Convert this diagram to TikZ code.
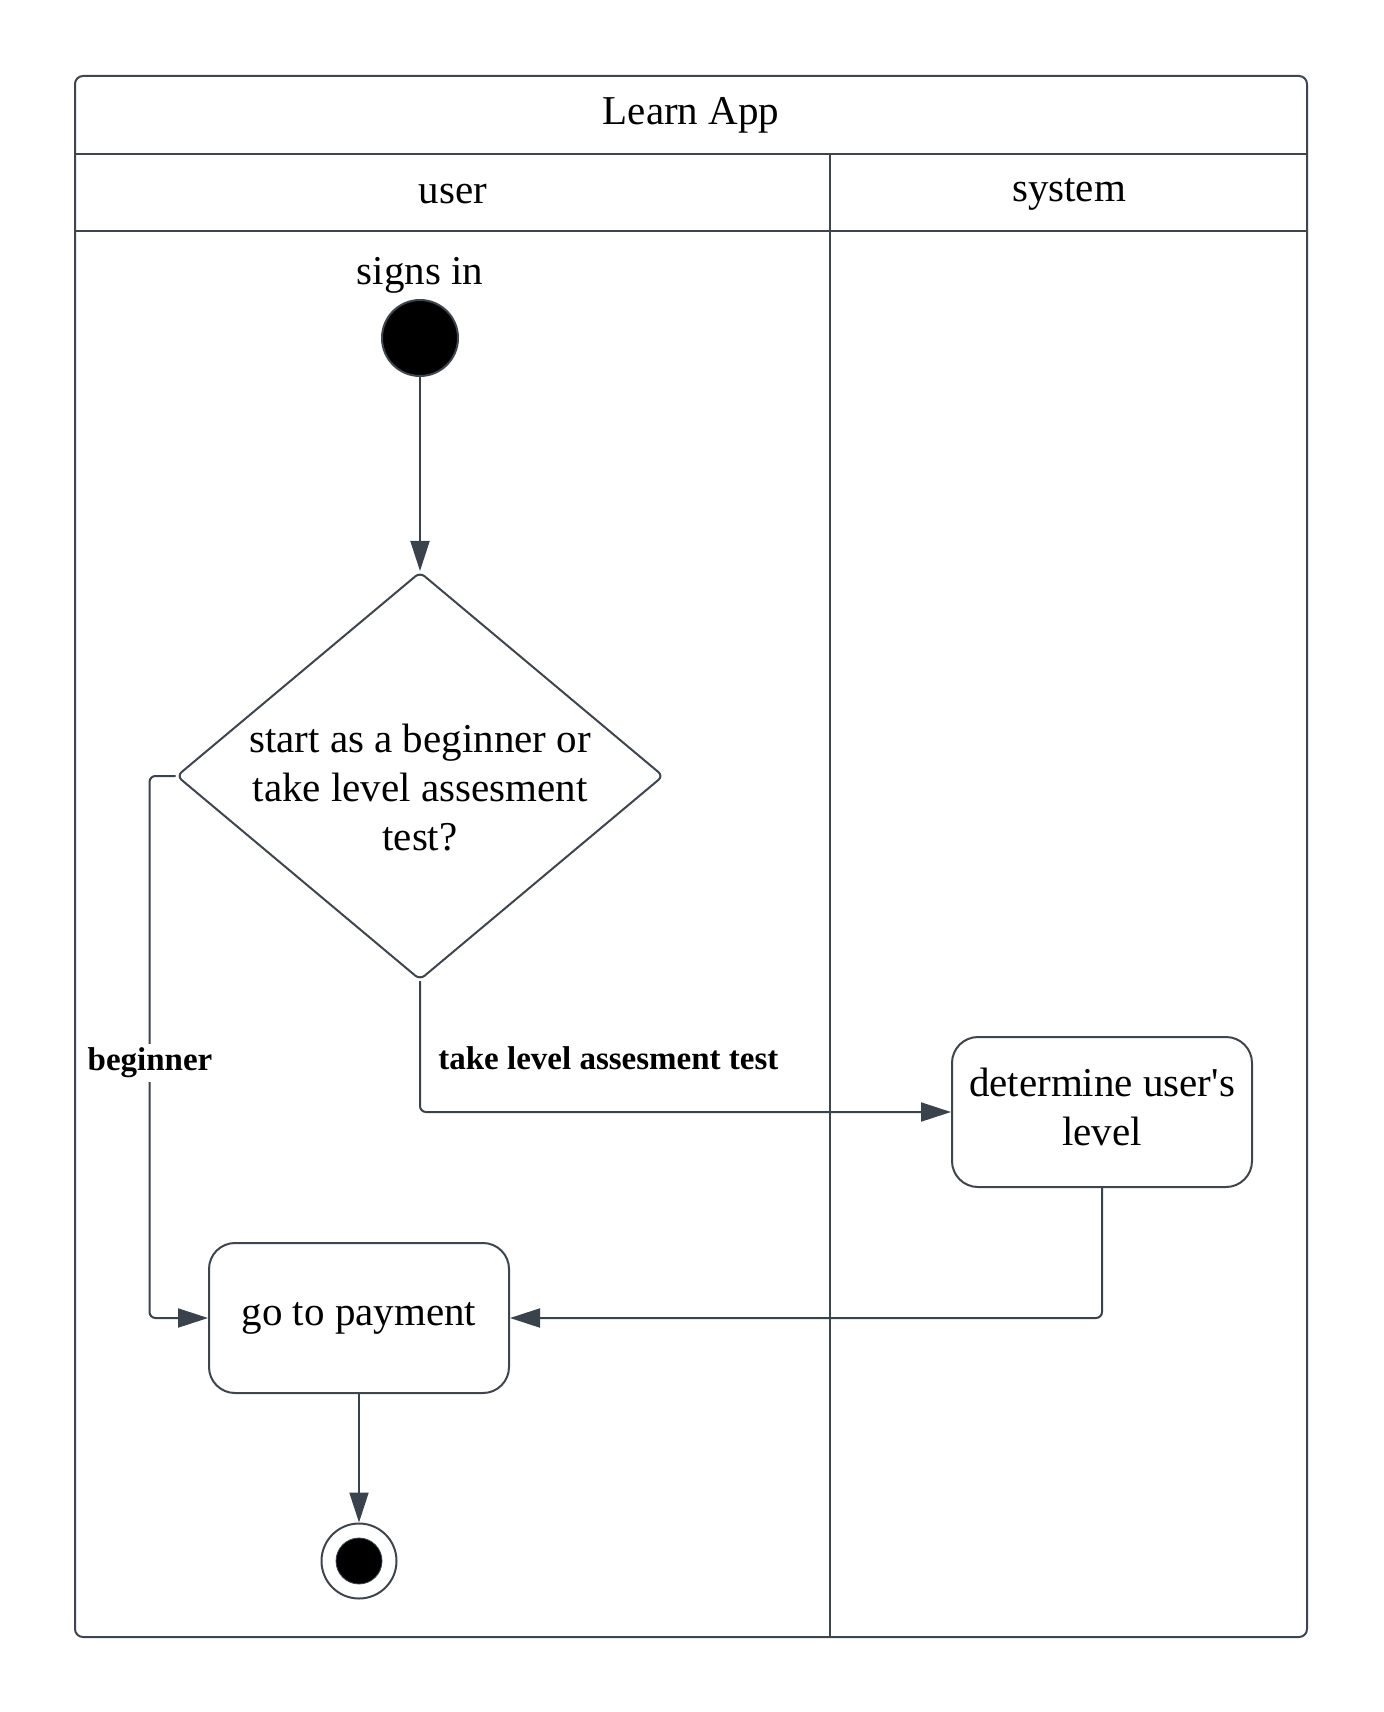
\documentclass[tikz,border=0pt]{standalone}
\usepackage{fontspec}
\setmainfont{Liberation Serif}
\usepackage{tikz}
\usetikzlibrary{shapes.geometric, arrows.meta, positioning}
\usepackage{xcolor}
\definecolor{LaneGray}{HTML}{3F454D}
\definecolor{ArrowSlate}{HTML}{3A424C}
\definecolor{InkBlack}{HTML}{000000}
\definecolor{PaperWhite}{HTML}{FFFFFF}
\tikzset{
    % Node styles
    actionbox/.style={
        rectangle,
        rounded corners=13pt,
        draw=LaneGray,
        fill=PaperWhite,
        line width=1pt,
        minimum width=150pt,
        minimum height=75pt,
        align=center,
        font={\fontsize{20.5}{24.5}\selectfont}
    },
    decisionbox/.style={
        diamond,
        rounded corners=3pt,
        draw=LaneGray,
        fill=PaperWhite,
        line width=1pt,
        inner sep=0pt,
        minimum width=243.5pt,
        minimum height=204pt
    },
    startdot/.style={
        circle,
        draw=LaneGray,
        fill=InkBlack,
        line width=1pt,
        minimum size=38pt
    },
    endring/.style={
        circle,
        draw=LaneGray,
        fill=PaperWhite,
        line width=1pt,
        minimum size=37.5pt
    },
    enddot/.style={
        circle,
        draw=LaneGray,
        fill=InkBlack,
        minimum size=23pt
    },
    plaintext/.style={
        align=center,
        text=InkBlack,
        font={\fontsize{20.5}{24.5}\selectfont}
    },
    guardtext/.style={
        text=InkBlack,
        inner sep=2pt,
        font={\fontsize{16.5}{19}\selectfont\bfseries}
    },
    % Line styles
    lane/.style={
        draw=LaneGray,
        line width=1pt
    },
    flowarrow/.style={
        -{Triangle[length=15pt,width=9.5pt]},
        draw=ArrowSlate,
        line width=1pt,
        rounded corners=3pt
    }
}

\begin{document}
\begin{tikzpicture}[x=0.5pt, y=-0.5pt]
    \useasboundingbox (0,0) rectangle (1384,1712);

    % Swimlane frame
    \draw[lane, rounded corners=4pt] (75,76) rectangle (1307,1637);
    \draw[lane] (75,154) -- (1307,154);
    \draw[lane] (75,231) -- (1307,231);
    \draw[lane] (830,154) -- (830,1637);

    % Headers
    \node[plaintext] (title) at (691,115) {Learn App};
    \node[plaintext] (userlane) at (453,194) {user};
    \node[plaintext] (systemlane) at (1069,194) {system};

    % Start
    \node[plaintext] (signin) at (420,275) {signs in};
    \node[startdot] (start) at (420,338) {};

    % Decision
    \node[decisionbox] (choice) at (420,776) {};
    \node[plaintext] (choicetext) at (420,788) {start as a beginner or\\take level assesment\\test?};

    % Actions
    \node[actionbox] (assess) at (1102,1112) {};
    \node[plaintext] (assesstext) at (1102,1107) {determine user\textquotesingle s\\level};
    \node[actionbox] (pay) at (359,1318) {go to payment};

    % End
    \node[endring] (finish) at (359,1561) {};
    \node[enddot] (finishdot) at (finish) {};

    % Flows
    \draw[flowarrow] (start) -- (choice);
    \draw[flowarrow] (choice.south) |- (assess.west);
    \draw[flowarrow] (choice.west) -- ++(-26,0) |- (pay.west);
    \draw[flowarrow] (assess.south) |- (pay.east);
    \draw[flowarrow] (pay.south) -- (finish);

    % Guards
    \node[guardtext, fill=PaperWhite] (beginlabel) at (150,1063) {beginner};
    \node[guardtext, anchor=west] (assesslabel) at (434,1058) {take level assesment test};
\end{tikzpicture}
\end{document}
